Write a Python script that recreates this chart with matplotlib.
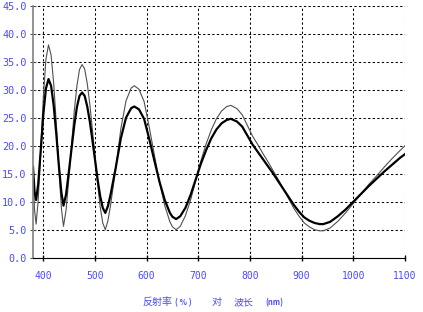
import numpy as np
import matplotlib
matplotlib.use("Agg")
import matplotlib.pyplot as plt

# wavelength (nm) and reflectance (%)
wavelength = [380, 383, 386, 390, 395, 400, 405, 410, 415, 420, 425, 430, 435, 439,
              444, 450, 455, 460, 465, 470, 475, 480, 485, 490, 495, 500, 505, 510,
              515, 520, 525, 530, 540, 550, 560, 570, 576, 585, 595, 605, 615, 625,
              635, 645, 650, 657, 665, 675, 685, 695, 705, 715, 725, 735, 745, 755,
              763, 775, 785, 795, 805, 815, 825, 835, 845, 855, 865, 875, 885, 895,
              905, 915, 925, 935, 942, 955, 970, 985, 1000, 1015, 1030, 1045, 1060,
              1075, 1090, 1100]

refl_thick = [16.2, 11.8, 10.3, 13.1, 19.2, 25.6, 30.2, 31.9, 30.7, 27.2, 22.2, 16.5, 11.6, 9.3,
              11.3, 15.8, 19.8, 23.7, 26.9, 28.9, 29.5, 28.9, 27.0, 24.3, 21.0, 17.5, 14.0, 11.0,
              8.9, 8.0, 9.2, 11.2, 16.0, 21.3, 25.0, 26.7, 27.0, 26.5, 24.8, 21.2, 17.3, 13.5,
              10.3, 8.0, 7.3, 6.9, 7.4, 8.9, 11.2, 14.0, 16.8, 19.2, 21.3, 22.9, 24.0, 24.6,
              24.8, 24.3, 23.4, 21.8, 20.2, 18.9, 17.6, 16.3, 15.0, 13.6, 12.2, 10.8, 9.4, 8.2,
              7.2, 6.6, 6.2, 6.0, 6.0, 6.4, 7.4, 8.6, 10.0, 11.4, 12.8, 14.1, 15.4,
              16.6, 17.8, 18.5]

refl_thin = [15.0, 8.5, 6.0, 10.2, 19.1, 28.7, 35.4, 38.0, 36.2, 31.2, 24.1, 16.0, 8.8, 5.6,
             8.5, 14.8, 20.6, 26.3, 30.7, 33.6, 34.5, 33.7, 31.1, 27.4, 22.8, 18.0, 13.2, 9.1,
             6.2, 5.0, 6.6, 9.3, 15.8, 23.0, 28.0, 30.3, 30.7, 30.1, 27.9, 23.3, 18.3, 13.4,
             9.3, 6.4, 5.5, 5.0, 5.6, 7.5, 10.3, 13.8, 17.3, 20.3, 22.8, 24.8, 26.2, 27.0,
             27.2, 26.6, 25.5, 23.6, 21.7, 20.2, 18.6, 17.1, 15.5, 13.9, 12.2, 10.5, 8.8, 7.4,
             6.2, 5.5, 5.0, 4.8, 4.8, 5.3, 6.5, 8.0, 9.7, 11.4, 13.1, 14.6, 16.2,
             17.7, 19.1, 20.0]

x_ticks = [400, 500, 600, 700, 800, 900, 1000, 1100]
y_ticks = [0, 5, 10, 15, 20, 25, 30, 35, 40, 45]
# title pieces: (text, left pixel, is small latin)
title_parts = [("反射率", 142, False), ("( % )", 175, True), ("对", 212, False),
               ("波长", 234, False), ("(nm)", 265, True)]

blue = "#4a4aff"
W, H = 423, 312

fig = plt.figure(figsize=(W / 100, H / 100), dpi=100)
ax = fig.add_axes([33 / W, 1 - 257.7 / H, (405 - 33) / W, (257.7 - 5.7) / H])

ax.plot(wavelength, refl_thin, color="#505050", lw=0.8)
ax.plot(wavelength, refl_thick, color="black", lw=1.6)

ax.set_xlim(380, 1100)
ax.set_ylim(0, 45)
ax.set_xticks(x_ticks)
ax.set_yticks(y_ticks)
ax.set_xticklabels([str(v) for v in x_ticks])
ax.set_yticklabels(["%.1f" % v for v in y_ticks])

ax.grid(True, color="black", linestyle=(0, (2.2, 2.2)), lw=0.75)
ax.set_axisbelow(True)

for side in ["top", "right"]:
    ax.spines[side].set_visible(False)
ax.spines["left"].set_color("#808080")
ax.spines["left"].set_linewidth(1.2)
ax.spines["bottom"].set_color("black")

ax.tick_params(axis="x", direction="inout", length=5, width=1, pad=7,
               labelsize=7, labelcolor=blue)
ax.tick_params(axis="y", direction="inout", length=5, width=0.8, pad=2,
               labelsize=7.3, labelcolor=blue, color="#505050")
for lab in ax.get_xticklabels() + ax.get_yticklabels():
    lab.set_family("DejaVu Sans Mono")

for txt, px, small in title_parts:
    fig.text(px / W, 1 - 305 / H, txt, color=blue, ha="left", va="baseline",
             fontsize=5.5 if small else 7.2, fontweight="bold" if small else "normal",
             family=["Noto Sans CJK SC", "DejaVu Sans"])

fig.savefig("out.png", dpi=100)
